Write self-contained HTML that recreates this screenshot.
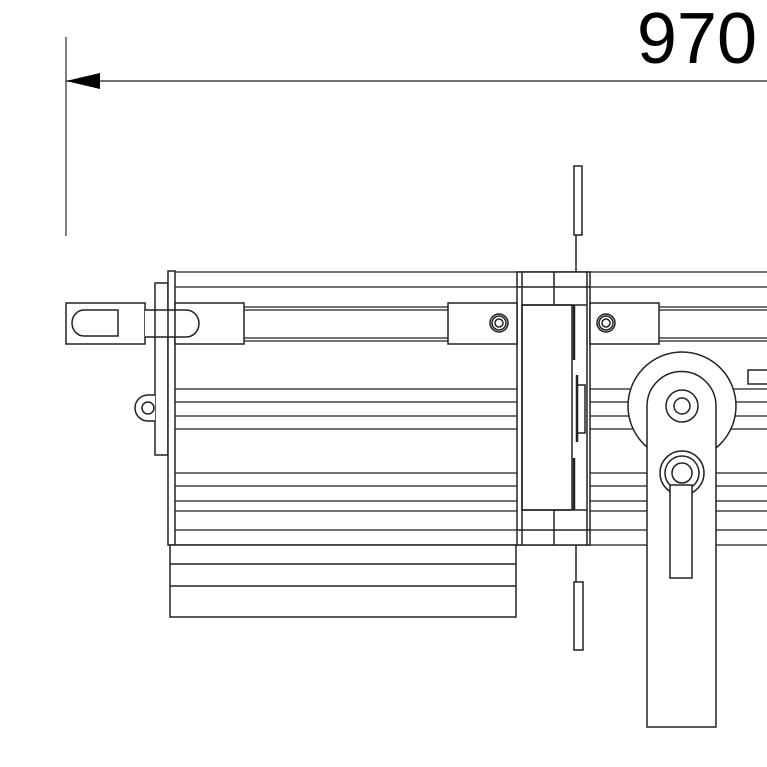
<!DOCTYPE html>
<html><head><style>html,body{margin:0;padding:0;background:#fff}svg{display:block}</style></head>
<body>
<svg width="767" height="767" viewBox="0 0 767 767" xmlns="http://www.w3.org/2000/svg" fill="none" stroke="#222" stroke-width="1.5">
<!-- dimension -->
<line x1="66" y1="37" x2="66" y2="236" stroke="#555"/>
<line x1="66" y1="81" x2="767" y2="81" stroke="#444"/>
<polygon points="66,81 100,73 100,89" fill="#000" stroke="none"/>
<text x="757" y="63" text-anchor="end" font-family="Liberation Sans, sans-serif" font-size="72" fill="#000" stroke="none">970</text>
<!-- top bracket -->
<rect x="574" y="166" width="8" height="69"/>
<line x1="576" y1="235" x2="576" y2="272"/>
<!-- long horizontal lines -->
<g stroke="#444">
<line x1="175" y1="272" x2="767" y2="272"/>
<line x1="175" y1="287" x2="767" y2="287"/>
<line x1="244" y1="307" x2="767" y2="307"/>
<line x1="244" y1="310" x2="767" y2="310"/>
<line x1="244" y1="338" x2="767" y2="338"/>
<line x1="244" y1="341" x2="767" y2="341"/>
<line x1="175" y1="389" x2="767" y2="389"/>
<line x1="175" y1="402" x2="767" y2="402"/>
<line x1="175" y1="416" x2="767" y2="416"/>
<line x1="175" y1="429" x2="767" y2="429"/>
<line x1="175" y1="473" x2="767" y2="473"/>
<line x1="175" y1="486" x2="767" y2="486"/>
<line x1="175" y1="501" x2="767" y2="501"/>
<line x1="175" y1="511" x2="767" y2="511"/>
<line x1="175" y1="530" x2="767" y2="530"/>
<line x1="170" y1="545" x2="767" y2="545"/>
</g>
<!-- back plates -->
<rect x="155" y="283" width="13" height="172" fill="#fff"/>
<rect x="168" y="271" width="7" height="274" fill="#fff"/>
<!-- lower box -->
<rect x="170" y="545" width="346" height="72" fill="#fff"/>
<line x1="170" y1="564" x2="516" y2="564"/>
<line x1="170" y1="586" x2="516" y2="586"/>
<!-- left lug / latch -->
<rect x="175" y="303" width="69" height="41" fill="#fff"/>
<rect x="66" y="303" width="79" height="41" fill="#fff"/>
<path d="M118,310 H84 a12,13 0 0 0 0,26 H118 Z"/>
<path d="M145,310 H186 a13,13.5 0 0 1 0,27 H145" fill="#fff"/>
<line x1="155" y1="310" x2="155" y2="337"/><line x1="168" y1="310" x2="168" y2="337"/><line x1="175" y1="310" x2="175" y2="337"/>
<!-- bottom small lug -->
<path d="M155,395 H148 a13,13 0 0 0 0,26 H155" fill="#fff"/>
<circle cx="148" cy="408" r="6"/>
<!-- center section -->
<rect x="517" y="272" width="73" height="273" fill="#fff"/>
<line x1="522" y1="272" x2="522" y2="545"/>
<line x1="554" y1="272" x2="554" y2="305"/>
<line x1="554" y1="510" x2="554" y2="545"/>
<line x1="587" y1="272" x2="587" y2="545"/>
<line x1="517" y1="287" x2="590" y2="287"/>
<line x1="517" y1="530" x2="590" y2="530"/>
<rect x="522" y="305" width="50" height="205"/>
<line x1="522" y1="305" x2="587" y2="305"/>
<line x1="522" y1="510" x2="587" y2="510"/>
<line x1="574" y1="305" x2="574" y2="360" stroke-width="2.5"/>
<line x1="574" y1="458" x2="574" y2="510" stroke-width="2.5"/>
<line x1="577" y1="375" x2="577" y2="442" stroke-width="2.5"/>
<rect x="577" y="385" width="8" height="48"/>
<!-- bottom bracket -->
<line x1="576" y1="545" x2="576" y2="582"/>
<rect x="574" y="582" width="9" height="68"/>
<!-- bolt lugs -->
<rect x="448" y="303" width="69" height="41" fill="#fff"/>
<circle cx="499" cy="323" r="9"/><circle cx="499" cy="323" r="7"/><circle cx="499" cy="323" r="4"/>
<rect x="590" y="303" width="69" height="41" fill="#fff"/>
<circle cx="606" cy="323" r="9"/><circle cx="606" cy="323" r="7"/><circle cx="606" cy="323" r="4"/>
<rect x="748" y="370" width="22" height="14"/>
<!-- hub & arm -->
<circle cx="682" cy="406" r="54" fill="#fff"/>
<path d="M647,727 V406 a34.5,34.5 0 0 1 69,0 V727 Z" fill="#fff"/>
<circle cx="682" cy="406" r="16"/><circle cx="682" cy="406" r="8"/>
<circle cx="682" cy="473" r="22"/><circle cx="682" cy="473" r="17"/><circle cx="682" cy="473" r="10"/>
<rect x="670" y="485" width="22" height="93" fill="#fff"/>
</svg>
</body></html>
